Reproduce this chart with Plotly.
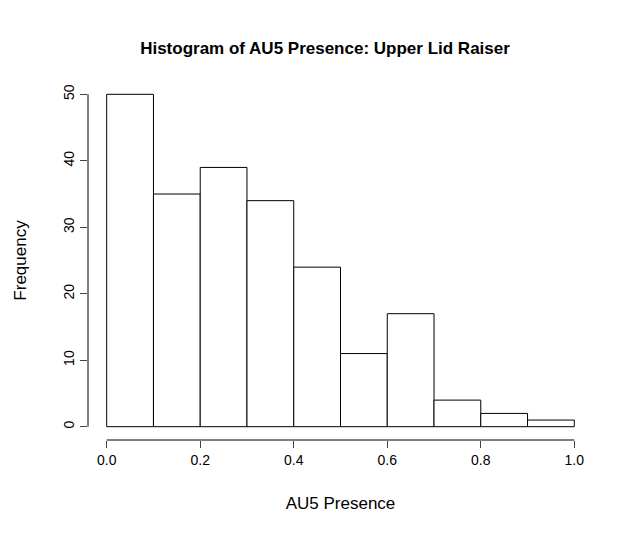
import plotly.graph_objects as go

bin_starts = [0.0, 0.1, 0.2, 0.3, 0.4, 0.5, 0.6, 0.7, 0.8, 0.9]
counts = [50, 35, 39, 34, 24, 11, 17, 4, 2, 1]
x_ticks = [0.0, 0.2, 0.4, 0.6, 0.8, 1.0]
y_ticks = [0, 10, 20, 30, 40, 50]

font = dict(family="Liberation Sans, Arial", size=14, color="black")

fig = go.Figure()
fig.add_trace(go.Bar(
    x=[b + 0.05 for b in bin_starts], y=counts, width=0.1,
    marker=dict(color="white", line=dict(color="black", width=1)),
))

fig.update_layout(
    width=634, height=538,
    plot_bgcolor="white", paper_bgcolor="white",
    margin=dict(l=71, r=49, t=73, b=106),
    font=font, showlegend=False,
    title=dict(text="<b>Histogram of AU5 Presence: Upper Lid Raiser</b>",
               x=0.5, xanchor="center", y=0.925, yanchor="middle",
               font=dict(size=17, family="Liberation Sans, Arial")),
    xaxis=dict(range=[-0.04, 1.04], tickvals=x_ticks,
               ticktext=[f"{v:.1f}" for v in x_ticks],
               ticks="outside", ticklen=7, showgrid=False, zeroline=False,
               title=dict(text="AU5 Presence", standoff=30)),
    yaxis=dict(range=[-2, 52], tickvals=y_ticks, tickangle=-90,
               ticks="outside", ticklen=7, showgrid=False, zeroline=False,
               title=dict(text="Frequency", standoff=30)),
    shapes=[
        dict(type="line", xref="x", yref="paper", x0=0, x1=1, y0=0, y1=0,
             line=dict(color="black", width=1)),
        dict(type="line", xref="paper", yref="y", x0=0, x1=0, y0=0, y1=50,
             line=dict(color="black", width=1)),
    ],
)

fig.write_html("out.html")
